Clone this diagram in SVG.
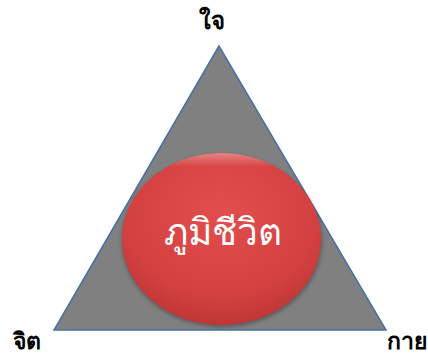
<svg xmlns="http://www.w3.org/2000/svg" width="428" height="358" viewBox="0 0 428 358">
<defs>
<radialGradient id="redg" cx="0.5" cy="0.35" r="0.7">
<stop offset="0" stop-color="#e24e4e"/>
<stop offset="0.7" stop-color="#d34040"/>
<stop offset="1" stop-color="#b93333"/>
</radialGradient>
<linearGradient id="hl" x1="0" y1="0" x2="0" y2="1">
<stop offset="0" stop-color="#ffffff" stop-opacity="0.35"/>
<stop offset="0.08" stop-color="#ffffff" stop-opacity="0"/>
<stop offset="1" stop-color="#ffffff" stop-opacity="0"/>
</linearGradient>
<filter id="blur" x="-10%" y="-10%" width="120%" height="120%">
<feGaussianBlur stdDeviation="2"/>
</filter>
</defs>
<style>
.lbl{font-family:"Noto Sans","DejaVu Sans",sans-serif;font-weight:bold;fill:#000;text-anchor:middle}
</style>
<g id="triangle">
<polygon points="219,46 54,330 386,330" fill="#808080" stroke="#4a6fa5" stroke-width="1.5"/>
</g>
<g id="circle">
<ellipse cx="222" cy="241" rx="100" ry="86" fill="#000" opacity="0.3" filter="url(#blur)"/>
<ellipse cx="221.5" cy="239" rx="99.5" ry="86" fill="url(#redg)"/>
<ellipse cx="221.5" cy="239" rx="99.5" ry="86" fill="url(#hl)"/>
<text x="223" y="245" font-family="Noto Sans, DejaVu Sans, sans-serif" font-size="37" fill="#fff" text-anchor="middle">ภูมิชีวิต</text>
</g>
<g id="label-jai"><text class="lbl" x="212" y="29" font-size="24">ใจ</text></g>
<g id="label-jit"><text class="lbl" x="27" y="349" font-size="23">จิต</text></g>
<g id="label-kai"><text class="lbl" x="407" y="349" font-size="23">กาย</text></g>
</svg>
